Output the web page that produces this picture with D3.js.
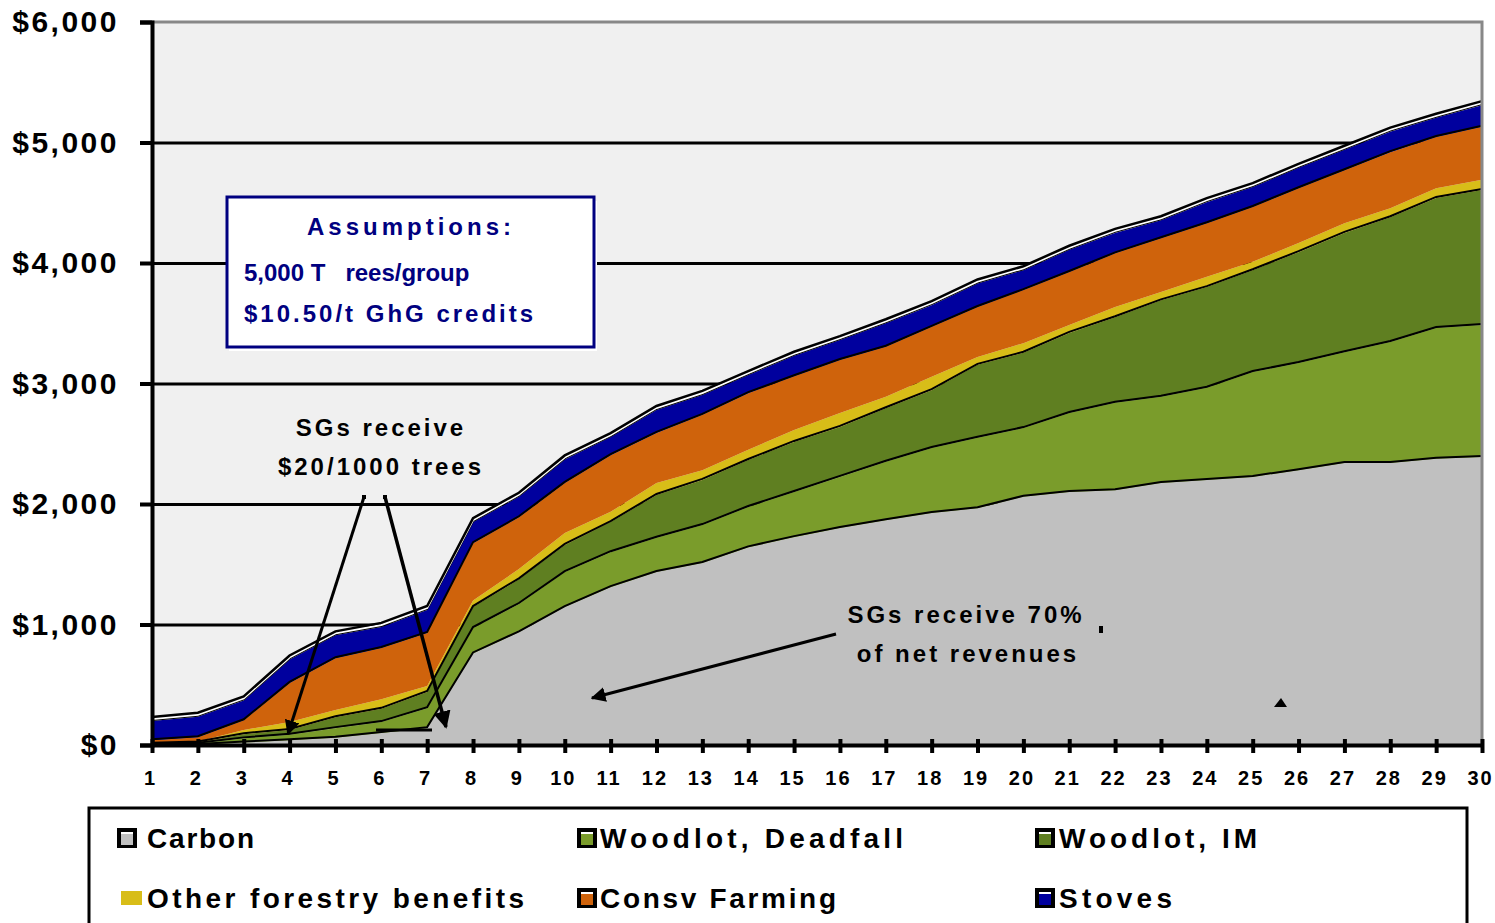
<!DOCTYPE html>
<html>
<head>
<meta charset="utf-8">
<script src="https://cdn.jsdelivr.net/npm/d3@7/dist/d3.min.js"></script>
<style>
body { margin: 0; background: #fff; }
text { font-family: "Liberation Sans", Arial, sans-serif; font-weight: bold; }
</style>
</head>
<body>
<div id="chart"></div>
<script>
// years on the x axis
const years = [1,2,3,4,5,6,7,8,9,10,11,12,13,14,15,16,17,18,19,20,21,22,23,24,25,26,27,28,29,30];

// yearly values per benefit stream ($)
const carbon    = [0,0,20,40,60,100,140,760,935,1145,1310,1435,1510,1640,1725,1800,1865,1925,1965,2060,2100,2115,2175,2200,2225,2280,2340,2340,2375,2390];
const deadfall  = [5,10,35,45,80,90,165,210,235,290,290,285,315,335,375,425,485,540,585,570,655,725,715,765,870,890,920,1005,1085,1095];
const woodlotIM = [5,10,35,40,90,110,135,175,205,225,250,355,375,390,415,415,445,480,605,625,665,710,800,835,845,920,990,1035,1080,1120];
const otherFor  = [5,10,35,65,60,80,50,55,85,100,85,100,80,85,100,115,95,110,65,80,65,85,70,85,70,75,80,75,80,85];
const consvFarm = [25,35,80,325,430,425,440,475,430,415,470,415,460,470,445,440,415,415,415,440,440,445,445,445,455,455,440,465,425,440];
const stoves    = [160,170,165,195,190,175,190,175,170,195,150,190,165,150,170,165,195,180,195,165,185,170,150,175,165,170,170,170,160,180];

const yTicks = [0,1000,2000,3000,4000,5000,6000];

const keys = ["carbon","deadfall","woodlotIM","otherFor","consvFarm","stoves"];
const labels = ["Carbon","Woodlot, Deadfall","Woodlot, IM","Other forestry benefits","Consv Farming","Stoves"];
const colors = ["#c0c0c0","#7a9c2b","#5f7f21","#d8bd18","#cf630c","#00009e"];

const width = 1495, height = 923;
const plotLeft = 152, plotRight = 1482, plotTop = 22, plotBottom = 745;

const svg = d3.select("#chart").append("svg")
    .attr("width", width)
    .attr("height", height);

const x = d3.scaleLinear().domain([1, 30]).range([plotLeft, plotRight]);
const y = d3.scaleLinear().domain([0, 6000]).range([plotBottom, plotTop]);

// plot background
svg.append("rect")
    .attr("x", plotLeft).attr("y", plotTop)
    .attr("width", plotRight - plotLeft).attr("height", plotBottom - plotTop)
    .attr("fill", "#f0f0f0");

// gridlines
svg.append("g")
    .attr("transform", `translate(${plotLeft},0)`)
    .call(d3.axisLeft(y).tickValues([1000,2000,3000,4000,5000]).tickSize(-(plotRight - plotLeft)).tickFormat(""))
    .call(g => g.select(".domain").remove())
    .call(g => g.selectAll("line").attr("stroke", "#000").attr("stroke-width", 3));

// stacked areas
const table = years.map((yr, i) => ({
    year: yr,
    carbon: carbon[i], deadfall: deadfall[i], woodlotIM: woodlotIM[i],
    otherFor: otherFor[i], consvFarm: consvFarm[i], stoves: stoves[i]
}));
const series = d3.stack().keys(keys)(table);

const area = d3.area()
    .x(d => x(d.data.year))
    .y0(d => y(d[0]))
    .y1(d => y(d[1]));

svg.append("g").selectAll("path")
    .data(series)
    .enter()
    .append("path")
    .attr("d", area)
    .attr("fill", (d, i) => colors[i]);

// edge lines on top of each band
const topLine = d3.line()
    .x(d => x(d.data.year))
    .y(d => y(d[1]));

svg.append("g").selectAll("path")
    .data(series.filter((d, i) => i != 3))
    .enter()
    .append("path")
    .attr("d", topLine)
    .attr("fill", "none")
    .attr("stroke", "#000")
    .attr("stroke-width", 2)
    .attr("transform", "translate(0,-1)");

// white + black outline above stoves
svg.append("path")
    .attr("d", topLine(series[5]))
    .attr("fill", "none").attr("stroke", "#fff").attr("stroke-width", 2)
    .attr("transform", "translate(0,-2)");
svg.append("path")
    .attr("d", topLine(series[5]))
    .attr("fill", "none").attr("stroke", "#000").attr("stroke-width", 2.5)
    .attr("transform", "translate(0,-4)");

// plot border (top / right)
svg.append("path")
    .attr("d", `M${plotLeft},${plotTop}H${plotRight}V${plotBottom}`)
    .attr("fill", "none").attr("stroke", "#888").attr("stroke-width", 3);

// y axis
svg.append("g")
    .attr("transform", `translate(${plotLeft},0)`)
    .call(d3.axisLeft(y).tickValues(yTicks).tickSize(12).tickPadding(21)
        .tickFormat(d => "$" + d3.format(",")(d)))
    .call(g => g.select(".domain").attr("stroke-width", 4))
    .call(g => g.selectAll(".tick line").attr("stroke-width", 4))
    .call(g => g.selectAll("text")
        .attr("font-size", 30)
        .attr("letter-spacing", 2.5)
        .attr("fill", "#000"));

// x axis
svg.append("g")
    .attr("transform", `translate(0,${plotBottom})`)
    .call(d3.axisBottom(x).tickValues(years).tickSize(8).tickPadding(18).tickSizeOuter(0))
    .call(g => g.select(".domain").attr("stroke-width", 4))
    .call(g => g.selectAll(".tick line").attr("y1", -6).attr("stroke-width", 4))
    .call(g => g.selectAll("text")
        .attr("font-size", 20)
        .attr("letter-spacing", 2)
        .attr("dx", -2)
        .attr("fill", "#000"));

// arrow heads
const defs = svg.append("defs");
defs.append("marker")
    .attr("id", "arrow")
    .attr("viewBox", "0 0 10 10")
    .attr("refX", 9).attr("refY", 5)
    .attr("markerWidth", 5).attr("markerHeight", 5)
    .attr("markerUnits", "strokeWidth")
    .attr("orient", "auto")
    .append("path").attr("d", "M0,0L10,5L0,10z").attr("fill", "#000");

// Assumptions box
svg.append("rect")
    .attr("x", 229).attr("y", 201).attr("width", 368).attr("height", 150)
    .attr("fill", "#fff");
svg.append("rect")
    .attr("x", 227).attr("y", 197).attr("width", 367).attr("height", 150)
    .attr("fill", "#fff").attr("stroke", "#000080").attr("stroke-width", 3);
svg.append("text")
    .attr("x", 411).attr("y", 235).attr("text-anchor", "middle")
    .attr("font-size", 24).attr("letter-spacing", 4).attr("fill", "#000080")
    .text("Assumptions:");
svg.append("text")
    .attr("x", 244).attr("y", 281)
    .attr("font-size", 24).attr("fill", "#000080")
    .style("white-space", "pre")
    .text("5,000 T   rees/group");
svg.append("text")
    .attr("x", 244).attr("y", 322)
    .attr("font-size", 24).attr("letter-spacing", 3).attr("fill", "#000080")
    .text("$10.50/t GhG credits");

// annotation: SGs receive $20/1000 trees
svg.append("text")
    .attr("x", 381).attr("y", 436).attr("text-anchor", "middle")
    .attr("font-size", 24).attr("letter-spacing", 3)
    .text("SGs receive");
svg.append("text")
    .attr("x", 381).attr("y", 475).attr("text-anchor", "middle")
    .attr("font-size", 24).attr("letter-spacing", 3)
    .text("$20/1000 trees");

svg.append("line")
    .attr("x1", 364).attr("y1", 497).attr("x2", 288).attr("y2", 734)
    .attr("stroke", "#000").attr("stroke-width", 3)
    .attr("marker-end", "url(#arrow)");
svg.append("line")
    .attr("x1", 385).attr("y1", 497).attr("x2", 446).attr("y2", 727)
    .attr("stroke", "#000").attr("stroke-width", 3.5)
    .attr("marker-end", "url(#arrow)");
svg.append("rect").attr("x", 362).attr("y", 495).attr("width", 4).attr("height", 4);
svg.append("rect").attr("x", 383).attr("y", 495).attr("width", 4).attr("height", 4);
svg.append("line")
    .attr("x1", 376).attr("y1", 730).attr("x2", 432).attr("y2", 730)
    .attr("stroke", "#000").attr("stroke-width", 3);

// annotation: SGs receive 70% of net revenues
svg.append("text")
    .attr("x", 966).attr("y", 623).attr("text-anchor", "middle")
    .attr("font-size", 24).attr("letter-spacing", 3)
    .text("SGs receive 70%");
svg.append("text")
    .attr("x", 968).attr("y", 662).attr("text-anchor", "middle")
    .attr("font-size", 24).attr("letter-spacing", 3)
    .text("of net revenues");
svg.append("line")
    .attr("x1", 836).attr("y1", 634).attr("x2", 592).attr("y2", 698)
    .attr("stroke", "#000").attr("stroke-width", 3)
    .attr("marker-end", "url(#arrow)");
svg.append("rect").attr("x", 1099).attr("y", 626).attr("width", 4).attr("height", 7);
svg.append("path").attr("d", "M1274,707L1281,698L1287,707z").attr("fill", "#000");

// legend
svg.append("rect")
    .attr("x", 89).attr("y", 808).attr("width", 1378).attr("height", 140)
    .attr("fill", "#fff").attr("stroke", "#000").attr("stroke-width", 3);

const legendPos = [
    {sx: 117, tx: 147, y: 838, w: 107},
    {sx: 577, tx: 600, y: 838, w: 303},
    {sx: 1035, tx: 1059, y: 838, w: 198},
    {sx: 121, tx: 147, y: 898, w: 377},
    {sx: 577, tx: 600, y: 898, w: 236},
    {sx: 1035, tx: 1059, y: 898, w: 113}
];

const legend = svg.append("g").selectAll("g")
    .data(keys)
    .enter()
    .append("g");

legend.each(function(k, i) {
    const g = d3.select(this);
    const p = legendPos[i];
    if (k == "otherFor") {
        g.append("rect").attr("x", p.sx).attr("y", p.y - 7).attr("width", 21).attr("height", 14)
            .attr("fill", colors[i]);
    } else {
        g.append("rect").attr("x", p.sx).attr("y", p.y - 10).attr("width", 20).attr("height", 20)
            .attr("fill", "#000");
        g.append("rect").attr("x", p.sx + 4).attr("y", p.y - 6).attr("width", 12).attr("height", 13)
            .attr("fill", colors[i]);
        g.append("rect").attr("x", p.sx + 4).attr("y", p.y - 6).attr("width", 12).attr("height", 2)
            .attr("fill", "#fff");
    }
    g.append("text")
        .attr("x", p.tx).attr("y", p.y + 10)
        .attr("font-size", 28)
        .attr("textLength", p.w)
        .attr("lengthAdjust", "spacing")
        .text(labels[i]);
});
</script>
</body>
</html>
